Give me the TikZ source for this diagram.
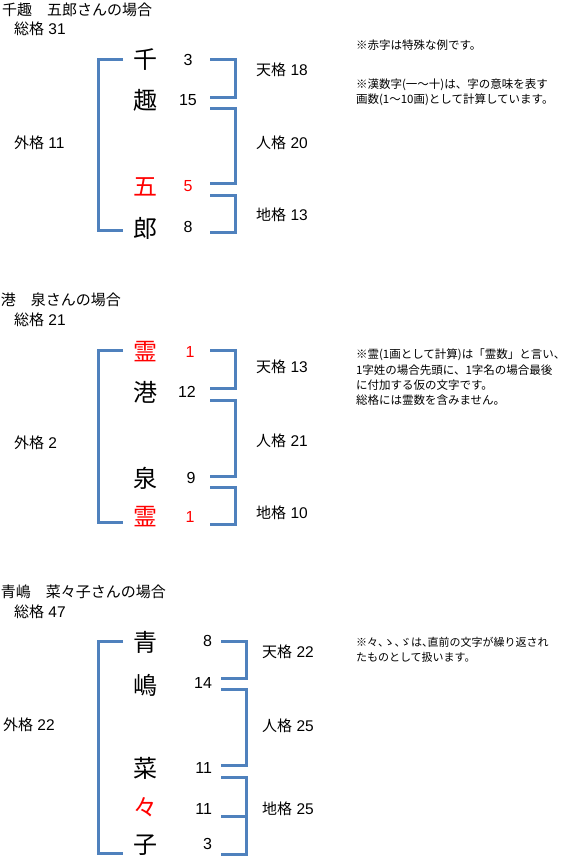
\documentclass[tikz,border=0pt]{standalone}
\usepackage{fontspec}
\newfontfamily\jp{Noto Sans CJK JP}
\newfontfamily\lat{Liberation Sans}
\definecolor{brkblue}{HTML}{4F81BD}
\definecolor{redtxt}{HTML}{FF0000}
\newcommand{\lab}[2]{{\jp #1}\hspace{4.5pt}{\lat\fontsize{15.5}{16}\selectfont #2}}
\newcommand{\hcomma}{\makebox[0.5em][l]{、}}
\begin{document}
\begin{tikzpicture}[x=1pt,y=-1pt,
  every node/.style={inner sep=0pt,outer sep=0pt},
  title/.style={anchor=west,font=\jp\fontsize{15}{16}\selectfont},
  label/.style={anchor=west,font=\jp\fontsize{15}{16}\selectfont},
  bigchar/.style={font=\jp\fontsize{24}{26}\selectfont},
  num/.style={font=\lat\fontsize{16}{17}\selectfont},
  note/.style={anchor=west,font=\jp\fontsize{11.5}{13}\selectfont},
  brk/.style={draw=brkblue,line width=3pt},
  special/.style={text=redtxt}]
\fill[white] (0,0) rectangle (570,863);
\useasboundingbox (0,0) rectangle (570,863);

% ---------- Section 1 ----------
\node[title] (t1) at (2,10) {千趣　五郎さんの場合};
\node[label] (s1) at (14,29) {\lab{総格}{31}};
\node[bigchar] (c11) at (145,60) {千};
\node[bigchar] (c12) at (145,100) {趣};
\node[bigchar,special] (c13) at (145,187) {五};
\node[bigchar] (c14) at (145,228) {郎};
\node[num] (n11) at (188,60) {3};
\node[num] (n12) at (188,100) {15};
\node[num,special] (n13) at (188,186) {5};
\node[num] (n14) at (188,227) {8};
\coordinate (L1t) at (123,59);
\coordinate (L1b) at (123,230);
\draw[brk] (L1t) -- ++(-25,0) |- (L1b);
\coordinate (T1t) at (210,59);
\coordinate (T1b) at (210,97);
\draw[brk] (T1t) -- ++(25,0) |- (T1b);
\coordinate (J1t) at (210,108);
\coordinate (J1b) at (210,183);
\draw[brk] (J1t) -- ++(25,0) |- (J1b);
\coordinate (C1t) at (210,195);
\coordinate (C1b) at (210,232);
\draw[brk] (C1t) -- ++(25,0) |- (C1b);
\node[label] (ten1) at (256,70) {\lab{天格}{18}};
\node[label] (jin1) at (256,143) {\lab{人格}{20}};
\node[label] (chi1) at (256,215) {\lab{地格}{13}};
\node[label] (gai1) at (14,143) {\lab{外格}{11}};
\node[note] (m11) at (356,45) {※赤字は特殊な例です。};
\node[note] (m12) at (356,85) {※漢数字(一〜十)は、字の意味を表す};
\node[note] (m13) at (356,100) {画数(1〜10画)として計算しています。};

% ---------- Section 2 ----------
\node[title] (t2) at (1,300) {港　泉さんの場合};
\node[label] (s2) at (14,320) {\lab{総格}{21}};
\node[bigchar,special] (c21) at (145,352) {霊};
\node[bigchar] (c22) at (145,392) {港};
\node[bigchar] (c23) at (145,478) {泉};
\node[bigchar,special] (c24) at (145,517) {霊};
\node[num,special] (n21) at (190,352) {1};
\node[num] (n22) at (187,392) {12};
\node[num] (n23) at (191,478) {9};
\node[num,special] (n24) at (190,517) {1};
\coordinate (L2t) at (123,350);
\coordinate (L2b) at (123,522);
\draw[brk] (L2t) -- ++(-25,0) |- (L2b);
\coordinate (T2t) at (210,350);
\coordinate (T2b) at (210,388);
\draw[brk] (T2t) -- ++(25,0) |- (T2b);
\coordinate (J2t) at (210,400);
\coordinate (J2b) at (210,476);
\draw[brk] (J2t) -- ++(25,0) |- (J2b);
\coordinate (C2t) at (210,487);
\coordinate (C2b) at (210,524);
\draw[brk] (C2t) -- ++(25,0) |- (C2b);
\node[label] (ten2) at (256,367) {\lab{天格}{13}};
\node[label] (jin2) at (256,441) {\lab{人格}{21}};
\node[label] (chi2) at (256,513) {\lab{地格}{10}};
\node[label] (gai2) at (14,443) {\lab{外格}{2}};
\node[note] (m21) at (356,355) {※霊(1画として計算)は「霊数」と言い、};
\node[note] (m22) at (356,370) {1字姓の場合先頭に、1字名の場合最後};
\node[note] (m23) at (356,385) {に付加する仮の文字です。};
\node[note] (m24) at (356,400) {総格には霊数を含みません。};

% ---------- Section 3 ----------
\node[title] (t3) at (1,592) {青嶋　菜々子さんの場合};
\node[label] (s3) at (14,612) {\lab{総格}{47}};
\node[bigchar] (c31) at (145,642) {青};
\node[bigchar] (c32) at (145,685) {嶋};
\node[bigchar] (c33) at (145,768) {菜};
\node[bigchar,special] (c34) at (145,807) {々};
\node[bigchar] (c35) at (145,845) {子};
\node[num,anchor=east] (n31) at (212,641) {8};
\node[num,anchor=east] (n32) at (212,683) {14};
\node[num,anchor=east] (n33) at (212,768) {11};
\node[num,anchor=east] (n34) at (212,809) {11};
\node[num,anchor=east] (n35) at (212,844) {3};
\coordinate (L3t) at (123,641);
\coordinate (L3b) at (123,853);
\draw[brk] (L3t) -- ++(-25,0) |- (L3b);
\coordinate (T3t) at (221,641);
\coordinate (T3b) at (221,678);
\draw[brk] (T3t) -- ++(25,0) |- (T3b);
\coordinate (J3t) at (221,689);
\coordinate (J3b) at (221,765);
\draw[brk] (J3t) -- ++(25,0) |- (J3b);
\coordinate (C3t) at (221,777);
\coordinate (C3b) at (221,854);
\coordinate (C3m) at (221,816);
\draw[brk] (C3t) -- ++(25,0) |- (C3b);
\draw[brk] (C3m) -- ++(25,0);
\node[label] (ten3) at (262,652) {\lab{天格}{22}};
\node[label] (jin3) at (262,726) {\lab{人格}{25}};
\node[label] (chi3) at (262,809) {\lab{地格}{25}};
\node[label] (gai3) at (3,725) {\lab{外格}{22}};
\node[note,font=\jp\fontsize{11}{13}\selectfont] (m31) at (356,642) {※々\hcomma ゝ\hcomma ゞは\hcomma 直前の文字が繰り返され};
\node[note,font=\jp\fontsize{11}{13}\selectfont] (m32) at (356,657) {たものとして扱います。};
\end{tikzpicture}
\end{document}
